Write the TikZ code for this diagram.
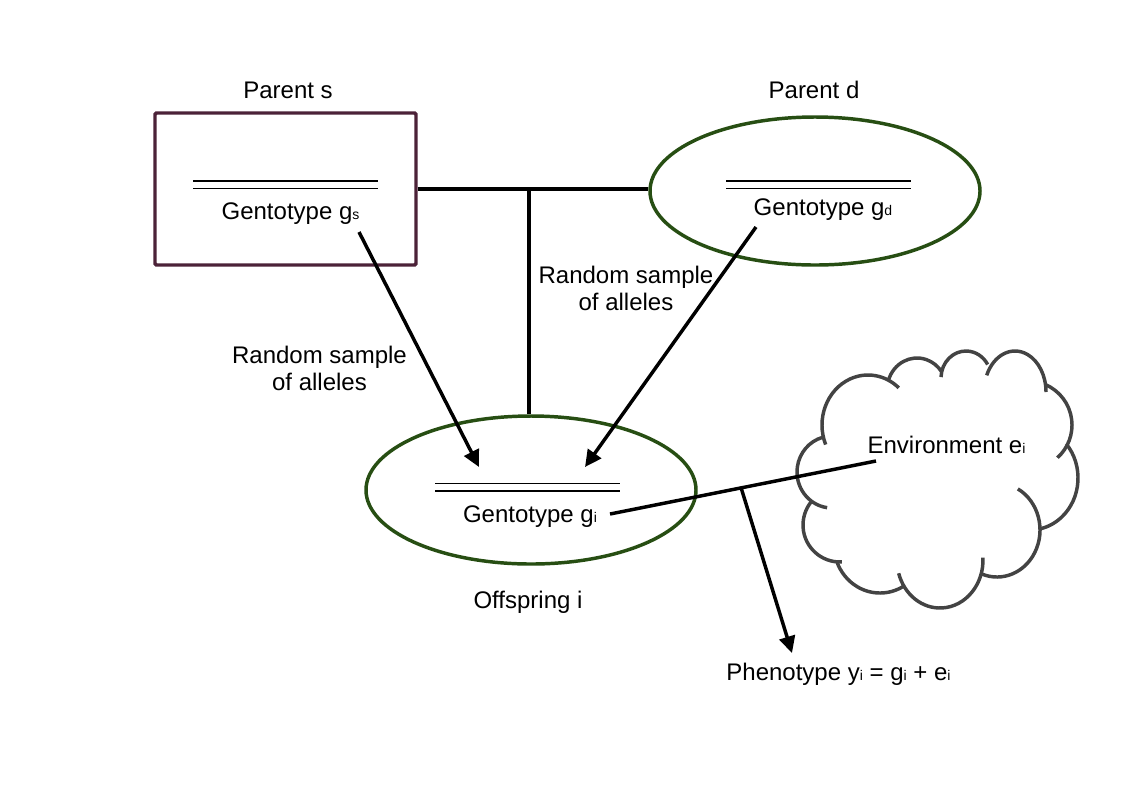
\documentclass[tikz,border=0pt]{standalone}
\usepackage{fontspec}
\setmainfont{Liberation Sans}
\usepackage{xcolor}
\definecolor{colorBox}{HTML}{4C2238}
\definecolor{colorEllipse}{HTML}{274E13}
\definecolor{colorCloud}{HTML}{434343}
\usetikzlibrary{arrows.meta, shapes.geometric}
\newcommand{\lowidx}[1]{{\fontsize{10.5}{12}\selectfont #1}}
\tikzset{
  label text/.style={font=\fontsize{18}{19.8}\selectfont, align=center, inner sep=0pt},
  word text/.style={label text, anchor=base},
  parent box/.style={draw=colorBox, line width=2.6pt, rounded corners=1pt, inner sep=0pt, minimum width=195.75pt, minimum height=114pt},
  parent ellipse/.style={draw=colorEllipse, ellipse, line width=2.6pt, inner sep=0pt, minimum width=247.5pt, minimum height=111pt},
  link/.style={black, line width=2.6pt},
  pair line/.style={black, line width=1.2pt},
  lobe/.style={colorCloud, line width=2.6pt},
}
\begin{document}
\begin{tikzpicture}[x=0.75pt, y=-0.75pt, >={Triangle[length=12.5pt, width=12pt]}]
\useasboundingbox (0,0) rectangle (1123,794);
\node[parent box] (parentS) at (285.5,189) {};
\node[parent ellipse] (parentD) at (815,191) {};
\node[parent ellipse] (offspring) at (531,490) {};
% cloud, one arc per lobe
\foreach \cx/\cy/\rx/\ry/\from/\to in {
  868/425/46/50/157/312, 917/390/30/32/198/326, 966/378/25/27/182/330,
  1015/392/31/41/204/360, 1028/425/44/44/293/408, 1030/478/48/52/319/438,
  997/530/43/47/299/470, 940/560/43/48/-3/164, 880/545/46/48/60/160,
  840/525/37/37/87/218, 832/472/35/36/98/254}
  \draw[lobe] (\cx,\cy) ++({\rx*cos(\from)},{\ry*sin(\from)})
    arc[start angle=\from, end angle=\to, x radius=\rx, y radius=\ry];
\node[word text] (parentSname) at (288,98) {Parent s};
\node[word text] (parentDname) at (814,98) {Parent d};
\node[word text] (gentS) at (290.5,219) {Gentotype g\lowidx{s}};
\node[word text] (gentD) at (823,215) {Gentotype g\lowidx{d}};
\node[word text] (gentI) at (530,522.5) {Gentotype g\lowidx{i}};
\node[label text] (sampleS) at (319.5,368.5) {Random sample\\of alleles};
\node[label text] (sampleD) at (626,288.5) {Random sample\\of alleles};
\node[word text] (offspringName) at (528,608) {Offspring i};
\node[word text] (envName) at (946.5,453) {Environment e\lowidx{i}};
\node[word text] (phenotype) at (838.5,680) {Phenotype y\lowidx{i} = g\lowidx{i} + e\lowidx{i}};
% allele pairs
\foreach \px/\py in {193/181, 193/188.5, 726/181, 726/188.5, 435/483.5, 435/491}
  \draw[pair line] (\px,\py) -- ++(185,0);
\coordinate (fromS) at (359,232);
\coordinate (toS) at (479,467);
\coordinate (fromD) at (756,227);
\coordinate (toD) at (585,467);
\coordinate (fromI) at (610,514);
\coordinate (toEnv) at (876,461);
\coordinate (mate) at (529,189);
\coordinate (mix) at (741,487.5);
\coordinate (toPheno) at (792,653);
\draw[link] (parentS.east |- mate) -- (parentD.west |- mate);
\draw[link] (mate) -- (mate |- offspring.north);
\draw[link, ->] (fromS) -- (toS);
\draw[link, ->] (fromD) -- (toD);
\draw[link] (fromI) -- (toEnv);
\draw[link, ->] (mix) -- (toPheno);
\end{tikzpicture}
\end{document}
